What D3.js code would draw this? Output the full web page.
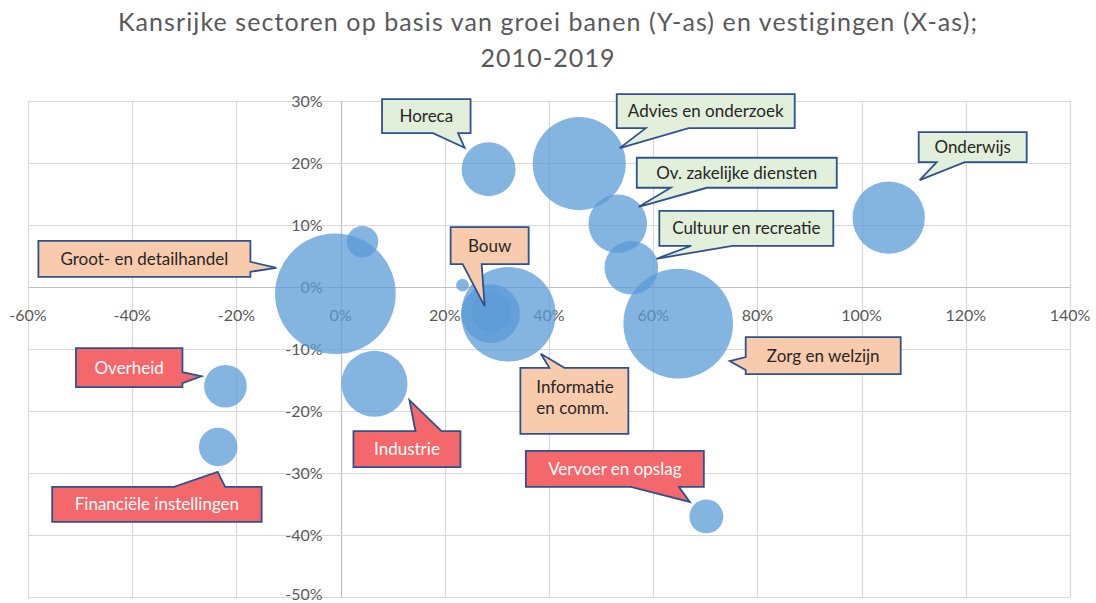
<!DOCTYPE html>
<html lang="nl">
<head>
    <meta charset="UTF-8">
    <title>Kansrijke sectoren</title>
    <style>
        body { margin: 0; background: #fff; }
        svg { display: block; font-family: Lato, "Open Sans", sans-serif; }
        .grid line { stroke: #d9d9d9; stroke-width: 1.2; }
        .tick-label { fill: #595959; font-size: 16px; }
        .bubble { fill: #5b9bd5; fill-opacity: 0.75; }
        .callout path { stroke: #2f528f; stroke-width: 1.8; stroke-linejoin: miter; }
        .callout text { font-size: 17px; }
    </style>
</head>
<body>
    <div id="chart"></div>

    <script src="https://d3js.org/d3.v7.min.js"></script>
    <script>
        // Data: groei vestigingen (x) en groei banen (y), 2010-2019, bubble = omvang
        const sectors = [
            'Groot- en detailhandel', 'Horeca', 'Bouw', 'Advies en onderzoek',
            'Ov. zakelijke diensten', 'Cultuur en recreatie', 'Onderwijs', 'Zorg en welzijn',
            'Informatie en comm.', 'Vervoer en opslag', 'Overheid', 'Financiële instellingen',
            'Industrie', 'Overige sector 1', 'Overige sector 2', 'Overige sector 3'
        ];
        const growthVestigingen = [-0.010, 0.284, 0.288, 0.458, 0.532, 0.558, 1.052, 0.648,
                                   0.322, 0.702, -0.221, -0.235, 0.065, 0.289, 0.042, 0.234];
        const growthBanen = [-0.011, 0.190, -0.043, 0.199, 0.102, 0.031, 0.112, -0.059,
                             -0.044, -0.370, -0.160, -0.258, -0.156, -0.040, 0.073, 0.003];
        const omvang = [1000, 200, 236, 595, 236, 198, 360, 826,
                        615, 79, 125, 102, 300, 110, 68, 11];

        const xTicks = [-0.6, -0.4, -0.2, 0, 0.2, 0.4, 0.6, 0.8, 1.0, 1.2, 1.4];
        const yTicks = [0.3, 0.2, 0.1, 0, -0.1, -0.2, -0.3, -0.4, -0.5];
        const titleLines = ['Kansrijke sectoren op basis van groei banen (Y-as) en vestigingen (X-as);', '2010-2019'];

        // Callout layout (px, relative to bubble centre): box, tail side + base offsets, tip
        const callouts = [
            { sector: 'Groot- en detailhandel', text: ['Groot- en detailhandel'], fill: '#f8cbad', color: '#262626',
              box: [-297, -53, 212, 36], side: 'right', base: [21, 31], tip: [-59, -26] },
            { sector: 'Horeca', text: ['Horeca'], fill: '#e2efda', color: '#262626',
              box: [-106.5, -70, 88.5, 34], side: 'bottom', base: [51, 76], tip: [-24, -21.5] },
            { sector: 'Bouw', text: ['Bouw'], fill: '#f8cbad', color: '#262626',
              box: [-40, -86.5, 78, 37], side: 'bottom', base: [12, 31], tip: [-6, -7.5] },
            { sector: 'Advies en onderzoek', text: ['Advies en onderzoek'], fill: '#e2efda', color: '#262626',
              box: [37.5, -69.5, 178, 34], side: 'bottom', base: [29, 72], tip: [40.5, -15.5] },
            { sector: 'Ov. zakelijke diensten', text: ['Ov. zakelijke diensten'], fill: '#e2efda', color: '#262626',
              box: [19, -66, 200, 30], side: 'bottom', base: [34, 70], tip: [21, -17] },
            { sector: 'Cultuur en recreatie', text: ['Cultuur en recreatie'], fill: '#e2efda', color: '#262626',
              box: [28, -57, 174, 35], side: 'bottom', base: [32, 73], tip: [25, -9] },
            { sector: 'Onderwijs', text: ['Onderwijs'], fill: '#e2efda', color: '#262626',
              box: [30, -85.5, 108, 30], side: 'bottom', base: [18, 46], tip: [31, -37.5] },
            { sector: 'Zorg en welzijn', text: ['Zorg en welzijn'], fill: '#f8cbad', color: '#262626',
              box: [67.5, 13.5, 155, 37], side: 'left', base: [20, 33], tip: [51.5, 37.5] },
            { sector: 'Informatie en comm.', text: ['Informatie', 'en comm.'], fill: '#f8cbad', color: '#262626',
              box: [12, 53.5, 108, 66], side: 'top', base: [29, 44], tip: [32.5, 39.5], align: 'start' },
            { sector: 'Vervoer en opslag', text: ['Vervoer en opslag'], fill: '#f4676a', color: '#fff',
              box: [-180.5, -65.5, 178, 36], side: 'bottom', base: [105, 153], tip: [-16.5, -14.5] },
            { sector: 'Overheid', text: ['Overheid'], fill: '#f4676a', color: '#fff',
              box: [-149.5, -38, 106.5, 39], side: 'right', base: [24, 35], tip: [-24, -10] },
            { sector: 'Financiële instellingen', text: ['Financiële instellingen'], fill: '#f4676a', color: '#fff',
              box: [-166, 40, 209.5, 35], side: 'top', base: [122, 173], tip: [-0.5, 25] },
            { sector: 'Industrie', text: ['Industrie'], fill: '#f4676a', color: '#fff',
              box: [-21, 47.5, 107, 36], side: 'top', base: [62, 88], tip: [35, 16.5] }
        ];

        const width = 1096, height = 603;
        const plot = { left: 28, right: 1070, top: 101, bottom: 597 };

        const svg = d3.select('#chart')
            .append('svg')
            .attr('width', width)
            .attr('height', height);

        const xScale = d3.scaleLinear().domain([-0.6, 1.4]).range([plot.left, plot.right]);
        const yScale = d3.scaleLinear().domain([-0.5, 0.3]).range([plot.bottom, plot.top]);
        const rScale = d3.scaleSqrt().domain([0, d3.max(omvang)]).range([0, 60.3]);
        // plain hyphen for negatives, like the original
        const pct = d => d3.format('.0%')(d).replace('\u2212', '-');

        // Title
        svg.append('text')
            .attr('x', 548)
            .attr('text-anchor', 'middle')
            .attr('fill', '#595959')
            .style('font-size', '25px')
            .style('letter-spacing', '1.1px')
            .selectAll('tspan')
            .data(titleLines)
            .enter()
            .append('tspan')
            .attr('x', 548)
            .attr('y', (d, i) => 31 + i * 36)
            .text(d => d);

        // Gridlines
        const grid = svg.append('g').attr('class', 'grid');
        grid.selectAll('.gx')
            .data(xTicks)
            .enter()
            .append('line')
            .attr('x1', d => Math.round(xScale(d)) + 0.5)
            .attr('x2', d => Math.round(xScale(d)) + 0.5)
            .attr('y1', plot.top)
            .attr('y2', plot.bottom)
            .style('stroke', d => d === 0 ? '#bfbfbf' : null);
        grid.selectAll('.gy')
            .data(yTicks)
            .enter()
            .append('line')
            .attr('x1', plot.left)
            .attr('x2', plot.right)
            .attr('y1', d => Math.round(yScale(d)) + 0.5)
            .attr('y2', d => Math.round(yScale(d)) + 0.5)
            .style('stroke', d => d === 0 ? '#bfbfbf' : null);

        // Axis labels, placed along the zero lines
        svg.append('g')
            .selectAll('text')
            .data(xTicks)
            .enter()
            .append('text')
            .attr('class', 'tick-label')
            .attr('x', d => xScale(d))
            .attr('y', yScale(0) + 34)
            .attr('text-anchor', 'middle')
            .text(d => pct(d));

        svg.append('g')
            .selectAll('text')
            .data(yTicks)
            .enter()
            .append('text')
            .attr('class', 'tick-label')
            .attr('x', xScale(0) - 18)
            .attr('y', d => Math.min(yScale(d), height - 9)) // keep bottom label inside the page
            .attr('dy', '0.35em')
            .attr('text-anchor', 'end')
            .text(d => pct(d));

        // Bubbles
        const points = sectors.map((s, i) => ({
            sector: s, x: growthVestigingen[i], y: growthBanen[i], size: omvang[i]
        }));
        svg.append('g')
            .selectAll('circle')
            .data(points)
            .enter()
            .append('circle')
            .attr('class', 'bubble')
            .attr('cx', d => xScale(d.x))
            .attr('cy', d => yScale(d.y))
            .attr('r', d => rScale(d.size));

        // Callout shape: rectangle with a wedge tail on one side
        function calloutPath(x, y, w, h, side, a, b, tx, ty) {
            const p = [[x, y]];
            if (side === 'top') p.push([x + a, y], [tx, ty], [x + b, y]);
            p.push([x + w, y]);
            if (side === 'right') p.push([x + w, y + a], [tx, ty], [x + w, y + b]);
            p.push([x + w, y + h]);
            if (side === 'bottom') p.push([x + b, y + h], [tx, ty], [x + a, y + h]);
            p.push([x, y + h]);
            if (side === 'left') p.push([x, y + b], [tx, ty], [x, y + a]);
            return 'M' + p.map(q => q.join(',')).join('L') + 'Z';
        }

        svg.append('g')
            .selectAll('g')
            .data(callouts)
            .enter()
            .append('g')
            .attr('class', 'callout')
            .each(function (c) {
                const pt = points.find(p => p.sector === c.sector);
                const cx = xScale(pt.x), cy = yScale(pt.y);
                const [bx, by, bw, bh] = c.box;
                const x = cx + bx, y = cy + by;
                const g = d3.select(this);
                g.append('path')
                    .attr('d', calloutPath(x, y, bw, bh, c.side, c.base[0], c.base[1], cx + c.tip[0], cy + c.tip[1]))
                    .attr('fill', c.fill);
                const lineH = 21;
                const t = g.append('text')
                    .attr('fill', c.color)
                    .attr('text-anchor', c.align === 'start' ? 'start' : 'middle');
                t.selectAll('tspan')
                    .data(c.text)
                    .enter()
                    .append('tspan')
                    .attr('x', c.align === 'start' ? x + 16 : x + bw / 2)
                    .attr('y', (d, i) => y + bh / 2 - (c.text.length - 1) * lineH / 2 + i * lineH - (c.text.length > 1 ? 3 : 0))
                    .attr('dy', '0.35em')
                    .text(d => d);
            });
    </script>
</body>
</html>
